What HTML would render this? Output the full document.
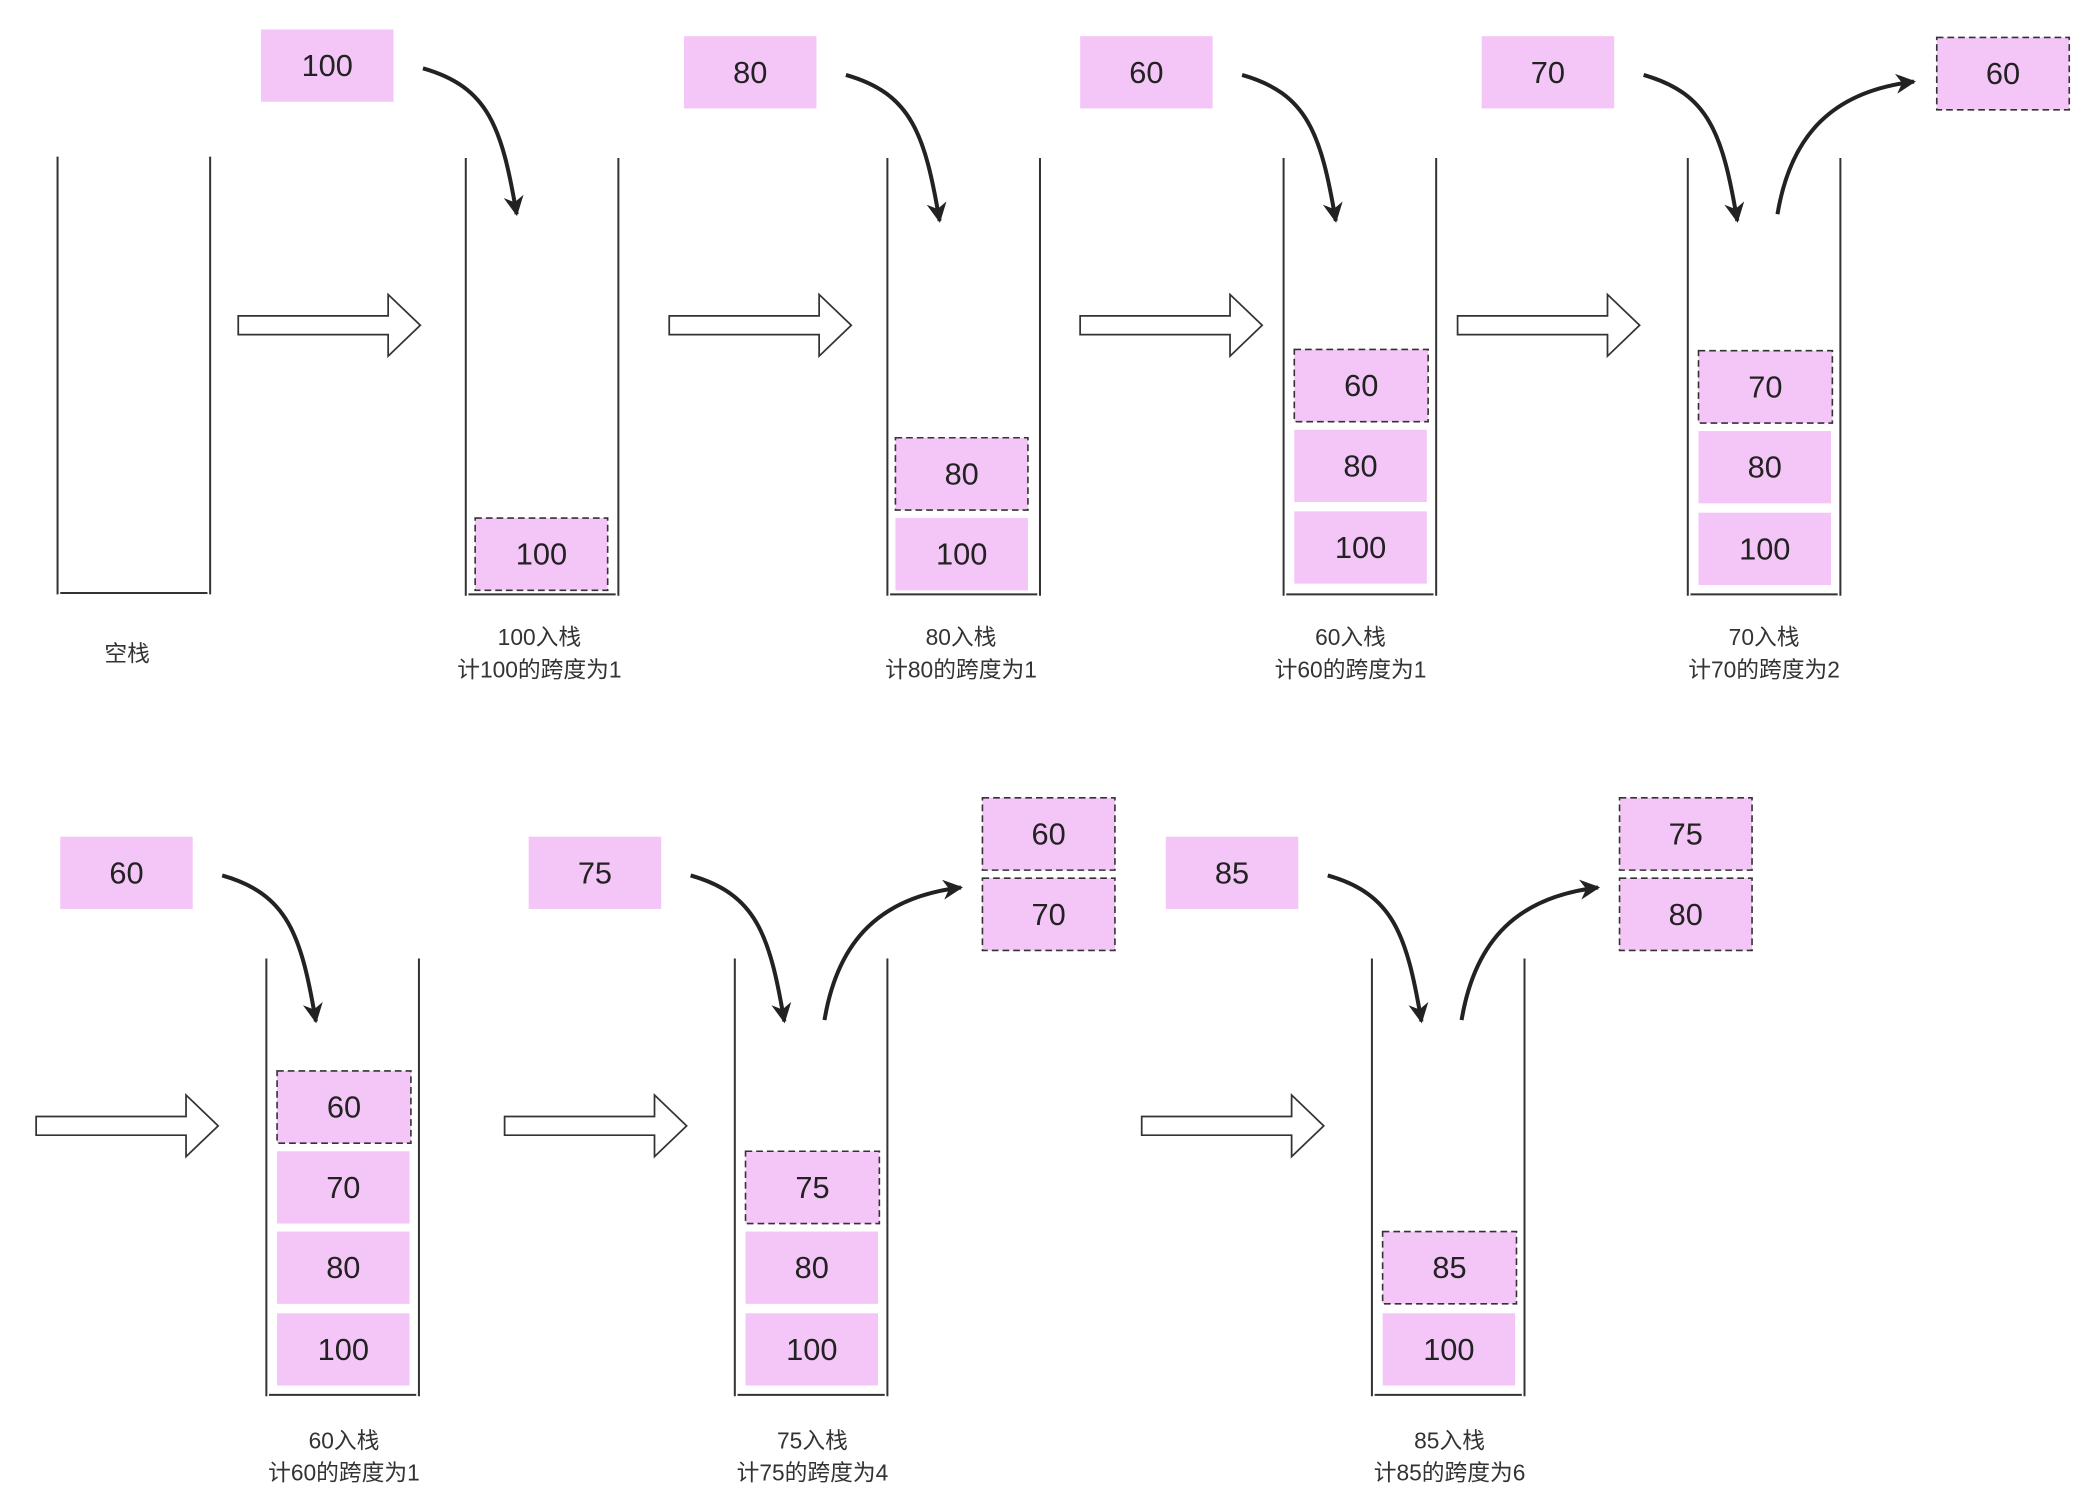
<!DOCTYPE html>
<html><head><meta charset="utf-8"><style>html,body{margin:0;padding:0;background:#fff}svg{display:block}</style></head>
<body>
<svg width="2088" height="1506" viewBox="0 0 1560 1125" preserveAspectRatio="none" xmlns="http://www.w3.org/2000/svg" font-family="Liberation Sans, Noto Sans CJK SC, sans-serif">
<defs>
<marker id="ah" viewBox="0 0 10 10" refX="9" refY="5" markerWidth="5" markerHeight="5" orient="auto"><path d="M0,0 L10,5 L0,10 L3,5 Z" fill="#222"/></marker>
<g id="stack"><path d="M0,0 V327 M114,0 V327 M2,326 H112" stroke="#333" stroke-width="1.5" fill="none"/></g>
<g id="harrow"><path d="M0,-7 H112 V-23 L136,0 L112,23 V7 H0 Z" fill="#fff" stroke="#333" stroke-width="1.3"/></g>
</defs>
<style>
.c{fill:#f4c6f7}
.d{fill:#f4c6f7;stroke:#333;stroke-dasharray:5 3;stroke-width:1.2}
.n{font-size:23px;fill:#222;text-anchor:middle;dominant-baseline:central}
.l{font-size:17px;fill:#333;text-anchor:middle}
.cv{fill:none;stroke:#222;stroke-width:3;marker-end:url(#ah)}
</style>

<!-- stacks -->
<use href="#stack" x="43" y="117"/>
<use href="#stack" x="348" y="118"/>
<use href="#stack" x="663" y="118"/>
<use href="#stack" x="959" y="118"/>
<use href="#stack" x="1261" y="118"/>
<use href="#stack" x="199" y="716"/>
<use href="#stack" x="549" y="716"/>
<use href="#stack" x="1025" y="716"/>

<!-- hollow arrows -->
<use href="#harrow" x="178" y="243"/>
<use href="#harrow" x="500" y="243"/>
<use href="#harrow" x="807" y="243"/>
<use href="#harrow" x="1089" y="243"/>
<use href="#harrow" x="27" y="841"/>
<use href="#harrow" x="377" y="841"/>
<use href="#harrow" x="853" y="841"/>

<!-- input boxes -->
<rect class="c" x="195" y="22" width="99" height="54"/><text class="n" x="244.5" y="49">100</text>
<rect class="c" x="511" y="27" width="99" height="54"/><text class="n" x="560.5" y="54">80</text>
<rect class="c" x="807" y="27" width="99" height="54"/><text class="n" x="856.5" y="54">60</text>
<rect class="c" x="1107" y="27" width="99" height="54"/><text class="n" x="1156.5" y="54">70</text>
<rect class="d" x="1447" y="28" width="99" height="54"/><text class="n" x="1496.5" y="55">60</text>
<rect class="c" x="45" y="625" width="99" height="54"/><text class="n" x="94.5" y="652">60</text>
<rect class="c" x="395" y="625" width="99" height="54"/><text class="n" x="444.5" y="652">75</text>
<rect class="c" x="871" y="625" width="99" height="54"/><text class="n" x="920.5" y="652">85</text>
<rect class="d" x="734" y="596" width="99" height="54"/><text class="n" x="783.5" y="623">60</text>
<rect class="d" x="734" y="656" width="99" height="54"/><text class="n" x="783.5" y="683">70</text>
<rect class="d" x="1210" y="596" width="99" height="54"/><text class="n" x="1259.5" y="623">75</text>
<rect class="d" x="1210" y="656" width="99" height="54"/><text class="n" x="1259.5" y="683">80</text>

<!-- stack contents -->
<rect class="d" x="355" y="387" width="99" height="54"/><text class="n" x="404.5" y="414">100</text>
<rect class="d" x="669" y="327" width="99" height="54"/><text class="n" x="718.5" y="354">80</text>
<rect class="c" x="669" y="387" width="99" height="54"/><text class="n" x="718.5" y="414">100</text>
<rect class="d" x="967" y="261" width="100" height="54"/><text class="n" x="1017" y="288">60</text>
<rect class="c" x="967" y="321" width="99" height="54"/><text class="n" x="1016.5" y="348">80</text>
<rect class="c" x="967" y="382" width="99" height="54"/><text class="n" x="1016.5" y="409">100</text>
<rect class="d" x="1269" y="262" width="100" height="54"/><text class="n" x="1319" y="289">70</text>
<rect class="c" x="1269" y="322" width="99" height="54"/><text class="n" x="1318.5" y="349">80</text>
<rect class="c" x="1269" y="383" width="99" height="54"/><text class="n" x="1318.5" y="410">100</text>

<rect class="d" x="207" y="800" width="100" height="54"/><text class="n" x="257" y="827">60</text>
<rect class="c" x="207" y="860" width="99" height="54"/><text class="n" x="256.5" y="887">70</text>
<rect class="c" x="207" y="920" width="99" height="54"/><text class="n" x="256.5" y="947">80</text>
<rect class="c" x="207" y="981" width="99" height="54"/><text class="n" x="256.5" y="1008">100</text>
<rect class="d" x="557" y="860" width="100" height="54"/><text class="n" x="607" y="887">75</text>
<rect class="c" x="557" y="920" width="99" height="54"/><text class="n" x="606.5" y="947">80</text>
<rect class="c" x="557" y="981" width="99" height="54"/><text class="n" x="606.5" y="1008">100</text>
<rect class="d" x="1033" y="920" width="100" height="54"/><text class="n" x="1083" y="947">85</text>
<rect class="c" x="1033" y="981" width="99" height="54"/><text class="n" x="1082.5" y="1008">100</text>

<!-- curved arrows -->
<path class="cv" d="M316,51 C365,65 375,95 386,160"/>
<path class="cv" d="M632,56 C681,70 691,100 702,165"/>
<path class="cv" d="M928,56 C977,70 987,100 998,165"/>
<path class="cv" d="M1228,56 C1277,70 1287,100 1298,165"/>
<path class="cv" d="M1328,160 C1338,100 1370,68 1430,61"/>
<path class="cv" d="M166,654 C215,668 225,698 236,763"/>
<path class="cv" d="M516,654 C565,668 575,698 586,763"/>
<path class="cv" d="M616,762 C626,702 658,670 718,663"/>
<path class="cv" d="M992,654 C1041,668 1051,698 1062,763"/>
<path class="cv" d="M1092,762 C1102,702 1134,670 1194,663"/>

<!-- labels -->
<text class="l" x="95" y="494">空栈</text>
<text class="l" x="403" y="482">100入栈</text><text class="l" x="403" y="506">计100的跨度为1</text>
<text class="l" x="718" y="482">80入栈</text><text class="l" x="718" y="506">计80的跨度为1</text>
<text class="l" x="1009" y="482">60入栈</text><text class="l" x="1009" y="506">计60的跨度为1</text>
<text class="l" x="1318" y="482">70入栈</text><text class="l" x="1318" y="506">计70的跨度为2</text>
<text class="l" x="257" y="1082">60入栈</text><text class="l" x="257" y="1106">计60的跨度为1</text>
<text class="l" x="607" y="1082">75入栈</text><text class="l" x="607" y="1106">计75的跨度为4</text>
<text class="l" x="1083" y="1082">85入栈</text><text class="l" x="1083" y="1106">计85的跨度为6</text>
</svg>
</body></html>
